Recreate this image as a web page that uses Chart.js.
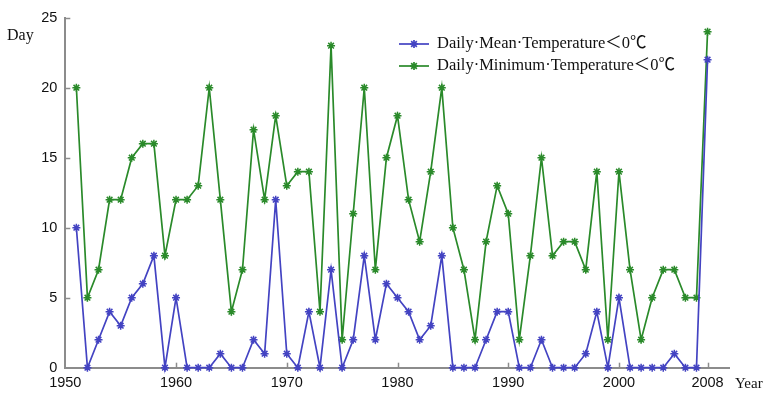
<!DOCTYPE html>
<html>
<head>
<meta charset="utf-8">
<script src="https://cdn.jsdelivr.net/npm/chart.js@4/dist/chart.umd.min.js"></script>
<style>
  html, body { margin: 0; padding: 0; background: #fff; }
  canvas { display: block; }
</style>
</head>
<body>
<canvas id="chart" width="764" height="393"></canvas>
<script>
// Frost days per year, 1951-2008
const years = [1951,1952,1953,1954,1955,1956,1957,1958,1959,1960,
               1961,1962,1963,1964,1965,1966,1967,1968,1969,1970,
               1971,1972,1973,1974,1975,1976,1977,1978,1979,1980,
               1981,1982,1983,1984,1985,1986,1987,1988,1989,1990,
               1991,1992,1993,1994,1995,1996,1997,1998,1999,2000,
               2001,2002,2003,2004,2005,2006,2007,2008];

const meanBelowZero = [10,0,2,4,3,5,6,8,0,5,
                       0,0,0,1,0,0,2,1,12,1,
                       0,4,0,7,0,2,8,2,6,5,
                       4,2,3,8,0,0,0,2,4,4,
                       0,0,2,0,0,0,1,4,0,5,
                       0,0,0,0,1,0,0,22];

const minBelowZero = [20,5,7,12,12,15,16,16,8,12,
                      12,13,20,12,4,7,17,12,18,13,
                      14,14,4,23,2,11,20,7,15,18,
                      12,9,14,20,10,7,2,9,13,11,
                      2,8,15,8,9,9,7,14,2,14,
                      7,2,5,7,7,5,5,24];

const xTickLabels = [1950,1960,1970,1980,1990,2000,2008];
const yTickLabels = [0,5,10,15,20,25];

const seriesNames = ['Daily·Mean·Temperature＜0℃', 'Daily·Minimum·Temperature＜0℃'];
const BLUE = '#4343c2';
const GREEN = '#2a8a2a';
const AXIS = '#8c8c8c';

const toPoints = vals => years.map((yr, i) => ({ x: yr, y: vals[i] }));

// Short tick marks pointing into the plot, plus legend and axis captions
const decorations = {
  id: 'decorations',
  afterDraw(chart) {
    const ctx = chart.ctx;
    const xs = chart.scales.x, ys = chart.scales.y;
    const area = chart.chartArea;
    ctx.save();
    ctx.strokeStyle = AXIS;
    ctx.lineWidth = 1.5;
    xTickLabels.forEach(v => {
      if (v === xs.min) return;
      const px = Math.round(xs.getPixelForValue(v)) + 0.5;
      ctx.beginPath();
      ctx.moveTo(px, area.bottom);
      ctx.lineTo(px, area.bottom - 5);
      ctx.stroke();
    });
    yTickLabels.forEach(v => {
      if (v === ys.min) return;
      const py = Math.round(ys.getPixelForValue(v)) + 0.5;
      ctx.beginPath();
      ctx.moveTo(area.left, py);
      ctx.lineTo(area.left + 5, py);
      ctx.stroke();
    });

    // axis captions
    ctx.fillStyle = '#111';
    ctx.font = '16px "Liberation Serif", "Times New Roman", serif';
    ctx.textAlign = 'left';
    ctx.textBaseline = 'middle';
    ctx.fillText('Day', 7, 36);
    ctx.font = '15px "Liberation Serif", "Times New Roman", serif';
    ctx.fillText('Year', 735, 384);

    // legend
    const rows = [44, 66];
    chart.data.datasets.forEach((ds, i) => {
      const y = rows[i];
      ctx.strokeStyle = ds.borderColor;
      ctx.lineWidth = 1.7;
      ctx.beginPath();
      ctx.moveTo(399, y);
      ctx.lineTo(429, y);
      ctx.stroke();
      Chart.helpers.drawPoint(ctx, {
        pointStyle: 'star', radius: 4, borderWidth: 1.5
      }, 414, y);
      ctx.fillStyle = '#111';
      ctx.font = '16.5px "Liberation Serif", "Times New Roman", "Noto Sans CJK SC", serif';
      ctx.textAlign = 'left';
      ctx.textBaseline = 'middle';
      ctx.fillText(ds.label, 437, y);
    });
    ctx.restore();
  }
};

new Chart(document.getElementById('chart'), {
  type: 'line',
  data: {
    datasets: [
      {
        label: seriesNames[0],
        data: toPoints(meanBelowZero),
        borderColor: BLUE,
        backgroundColor: BLUE,
        borderWidth: 1.7,
        pointStyle: 'star',
        pointRadius: 4,
        pointBorderWidth: 1.5,
        pointBorderColor: BLUE,
        tension: 0,
        clip: false
      },
      {
        label: seriesNames[1],
        data: toPoints(minBelowZero),
        borderColor: GREEN,
        backgroundColor: GREEN,
        borderWidth: 1.7,
        pointStyle: 'star',
        pointRadius: 4,
        pointBorderWidth: 1.5,
        pointBorderColor: GREEN,
        tension: 0,
        clip: false
      }
    ]
  },
  options: {
    responsive: false,
    animation: false,
    devicePixelRatio: 1,
    layout: { padding: { top: 17.7, right: 34.3, bottom: 0, left: 0 } },
    plugins: {
      legend: { display: false },
      tooltip: { enabled: false }
    },
    scales: {
      x: {
        type: 'linear',
        min: 1950,
        max: 2010,
        afterBuildTicks: s => { s.ticks = xTickLabels.map(v => ({ value: v })); },
        afterFit: s => { s.height = 25.3; },
        grid: { display: false, drawTicks: false },
        border: { display: true, color: AXIS, width: 2 },
        ticks: {
          padding: 7,
          color: '#111',
          font: { family: '"Liberation Sans", Arial, sans-serif', size: 14.5 },
          callback: v => String(v),
          autoSkip: false,
          maxRotation: 0
        }
      },
      y: {
        min: 0,
        max: 25,
        afterBuildTicks: s => { s.ticks = yTickLabels.map(v => ({ value: v })); },
        afterFit: s => { s.width = 65.3; },
        grid: { display: false, drawTicks: false },
        border: { display: true, color: AXIS, width: 2 },
        ticks: {
          padding: 8,
          color: '#111',
          font: { family: '"Liberation Sans", Arial, sans-serif', size: 14.5 },
          callback: v => String(v)
        }
      }
    }
  },
  plugins: [decorations]
});
</script>
</body>
</html>
